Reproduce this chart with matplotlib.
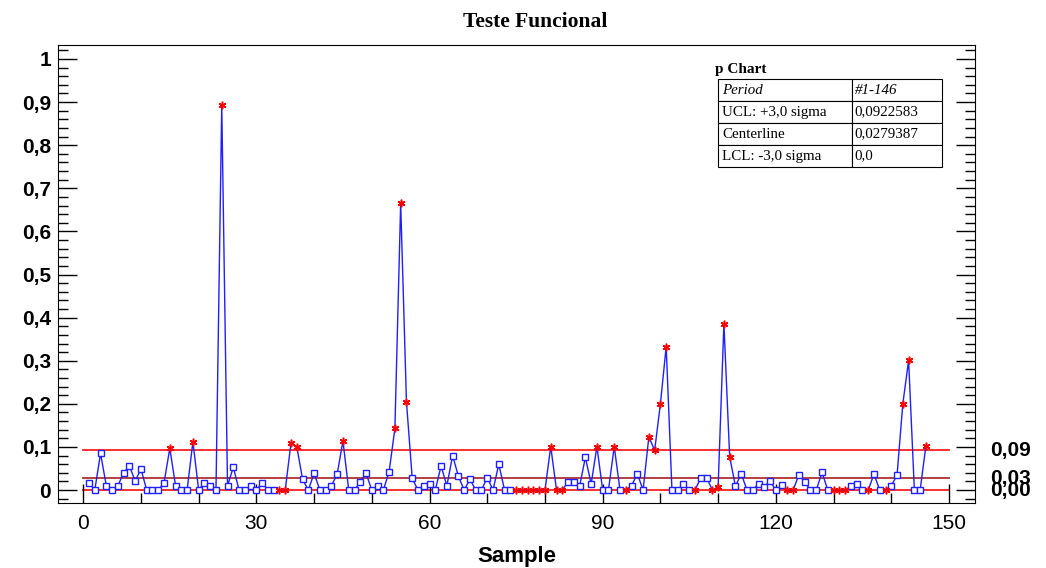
import matplotlib.pyplot as plt
from matplotlib.ticker import FuncFormatter, MultipleLocator
import matplotlib.transforms as mtransforms

# proportion nonconforming per sample
p_values = [
    0.017, 0, 0.085, 0.010, 0, 0.010, 0.040, 0.056, 0.021, 0.049,
    0, 0, 0, 0.017, 0.097, 0.010, 0, 0, 0.112, 0,
    0.017, 0.009, 0, 0.893, 0.010, 0.053, 0, 0, 0.010, 0,
    0.017, 0, 0, 0, 0, 0.110, 0.101, 0.025, 0, 0.039,
    0, 0, 0.010, 0.037, 0.114, 0, 0, 0.019, 0.039, 0,
    0.010, 0, 0.043, 0.143, 0.665, 0.205, 0.027, 0, 0.010, 0.014,
    0, 0.056, 0.010, 0.080, 0.032, 0, 0.025, 0, 0, 0.029,
    0, 0.060, 0, 0, 0, 0, 0, 0, 0, 0,
    0.101, 0, 0, 0.019, 0.019, 0.009, 0.076, 0.014, 0.101, 0,
    0, 0.101, 0, 0, 0.010, 0.038, 0, 0.124, 0.092, 0.200,
    0.333, 0, 0, 0.015, 0, 0, 0.029, 0.029, 0, 0.008,
    0.386, 0.077, 0.009, 0.038, 0, 0, 0.015, 0.008, 0.021, 0,
    0.011, 0, 0, 0.036, 0.019, 0, 0, 0.041, 0, 0,
    0, 0, 0.009, 0.014, 0, 0, 0.037, 0, 0, 0.010,
    0.035, 0.200, 0.301, 0, 0, 0.103,
]
samples = list(range(1, len(p_values) + 1))

# samples drawn with a red asterisk
flagged = [15, 19, 24, 34, 35, 36, 37, 45, 54, 55, 56,
           75, 76, 77, 78, 79, 80, 81, 82, 83, 89, 92, 94,
           98, 99, 100, 101, 106, 109, 110, 111, 112,
           122, 123, 130, 131, 132, 136, 139, 142, 143, 146]

ucl = 0.0922583
center = 0.0279387
lcl = 0.0

table_rows = [["Period", "#1-146"],
              ["UCL: +3,0 sigma", "0,0922583"],
              ["Centerline", "0,0279387"],
              ["LCL: -3,0 sigma", "0,0"]]

sans = "Liberation Sans"
serif = "Liberation Serif"

fig = plt.figure(figsize=(10.46, 5.68), dpi=100)
ax = fig.add_axes([0.0554, 0.1144, 0.8767, 0.8064])

# control limits
ax.plot([0, 150], [ucl, ucl], color="#ff2020", lw=1.3, zorder=1)
ax.plot([0, 150], [center, center], color="#b03030", lw=1.3, zorder=1)
ax.plot([0, 150], [lcl, lcl], color="#ff2020", lw=1.3, zorder=1)

ax.plot(samples, p_values, color="#1f1fff", lw=1.0, zorder=2)
ok_x = [s for s in samples if s not in flagged]
ok_y = [p_values[s - 1] for s in ok_x]
bad_y = [p_values[s - 1] for s in flagged]
ax.plot(ok_x, ok_y, ls="none", marker="s", ms=4.5, mfc="white", mec="#1f1fff", mew=1.0, zorder=3)
ax.plot(flagged, bad_y, ls="none", marker=(6, 2, 0), ms=5.5, mec="red", mew=1.1, zorder=4)

ax.set_xlim(-4.38, 154.5)
ax.set_ylim(-0.030, 1.0325)
ax.xaxis.set_major_locator(MultipleLocator(30))
ax.xaxis.set_minor_locator(MultipleLocator(10))
ax.yaxis.set_major_locator(MultipleLocator(0.1))
ax.yaxis.set_minor_locator(MultipleLocator(0.02))
ax.yaxis.set_major_formatter(FuncFormatter(lambda v, pos: ("%g" % round(v, 2)).replace(".", ",")))
ax.tick_params(axis="both", which="major", direction="in", length=14, width=1, right=True)
ax.tick_params(axis="both", which="minor", direction="in", length=7, width=1, right=True)
ax.tick_params(axis="y", pad=5)
ax.tick_params(axis="x", pad=8)
for lab in ax.get_yticklabels():
    lab.set_fontfamily(sans)
    lab.set_fontweight("bold")
    lab.set_fontsize(15)
for lab in ax.get_xticklabels():
    lab.set_fontfamily(sans)
    lab.set_fontsize(15)
ax.set_xlabel("Sample", fontfamily=sans, fontweight="bold", fontsize=16, labelpad=9)

fig.text(0.512, 0.962, "Teste Funcional", ha="center", va="center",
         fontfamily=serif, fontweight="bold", fontsize=15.5)

# limit values on the right
trans = mtransforms.blended_transform_factory(ax.transAxes, ax.transData)
for val in [ucl, center, lcl]:
    ax.text(1.016, val, ("%.2f" % val).replace(".", ","), transform=trans,
            ha="left", va="center", fontfamily=sans, fontweight="bold", fontsize=15, clip_on=False)

# summary table
fig.text(715 / 1046, 1 - 70 / 568, "p Chart", ha="left", va="center",
         fontfamily=serif, fontweight="bold", fontsize=11)
tbl = ax.table(cellText=table_rows, colWidths=[0.598, 0.402], cellLoc="left",
               bbox=[0.7197, 0.7336, 0.2443, 0.1921])
tbl.auto_set_font_size(False)
for (r, c), cell in tbl.get_celld().items():
    cell.set_linewidth(0.8)
    cell.PAD = 0.03
    cell.get_text().set_fontfamily(serif)
    cell.get_text().set_fontsize(10.8)
    if r == 0:
        cell.get_text().set_fontstyle("italic")

fig.savefig("out.png", dpi=100)
